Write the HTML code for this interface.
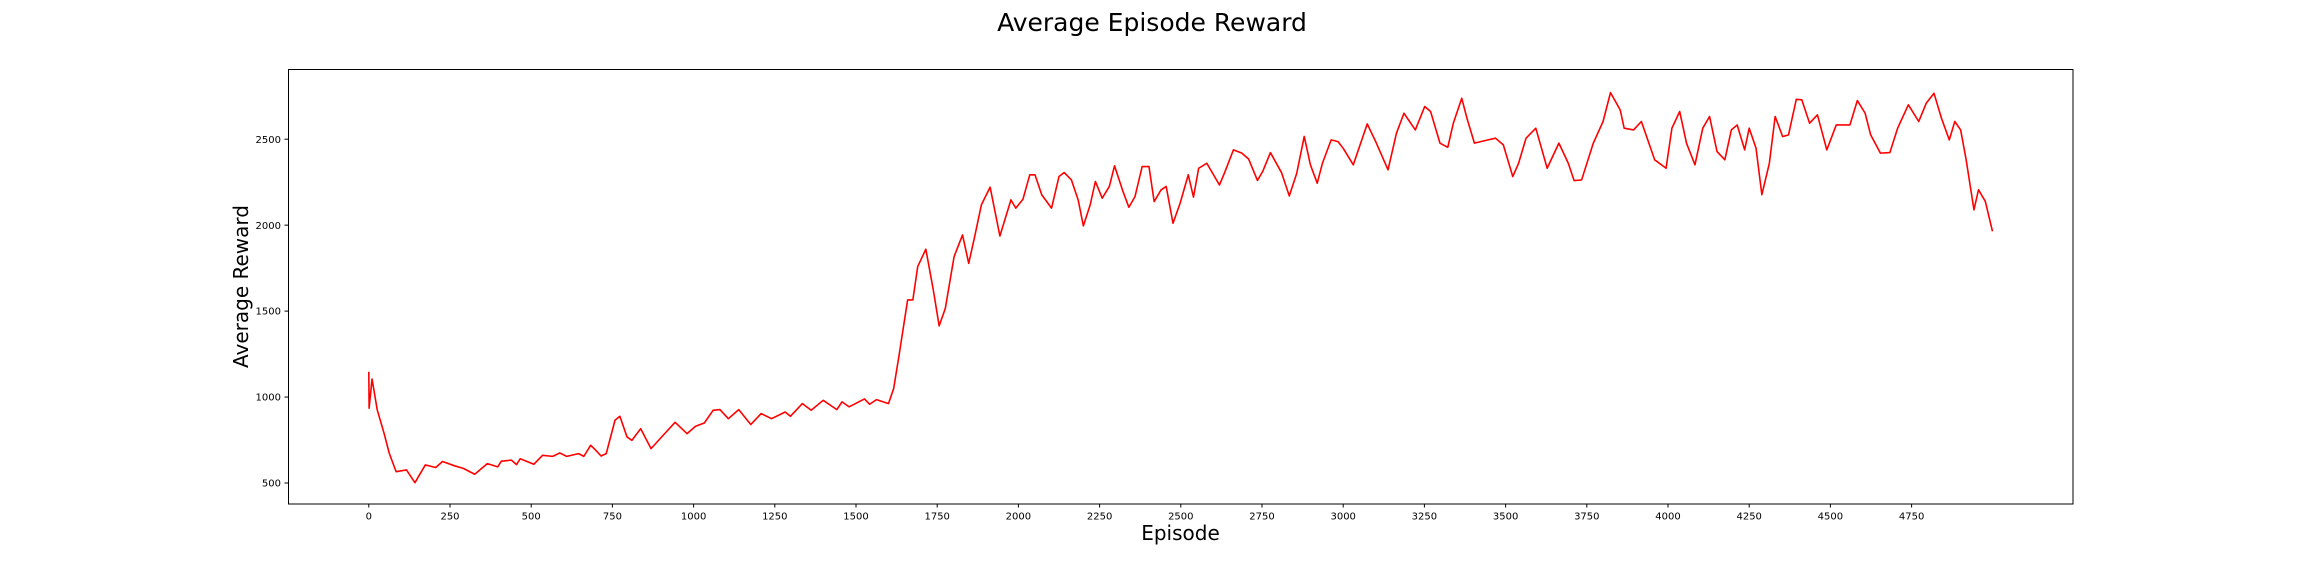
<!DOCTYPE html>
<html><head><meta charset="utf-8"><style>
html,body{margin:0;padding:0;background:#fff;}
svg{display:block;font-family:"DejaVu Sans","Liberation Sans",sans-serif;}
</style></head><body>
<svg id="chart" width="2304" height="576" viewBox="0 0 2304 576" xmlns="http://www.w3.org/2000/svg">
<rect width="2304" height="576" fill="#fff"/>
<text x="1152" y="31" font-size="25" text-anchor="middle" fill="#000">Average Episode Reward</text>
<text x="1180.5" y="540" font-size="20" text-anchor="middle" fill="#000">Episode</text>
<text x="0" y="0" font-size="20" text-anchor="middle" fill="#000" transform="translate(248,286.5) rotate(-90)">Average Reward</text>
<g id="ticks"></g>
<g id="plot"></g>
<rect x="288.5" y="69.5" width="1784.5" height="434.5" fill="none" stroke="#000" stroke-width="1"/>
</svg>
<script>
const episodes = [0,1,10,26,47,63,84,116,142,174,206,227,264,291,326,365,397,408,439,455,466,508,535,566,588,609,646,662,683,699,715,731,758,773,795,810,837,869,906,943,980,1006,1033,1060,1081,1107,1139,1176,1208,1240,1282,1298,1335,1362,1399,1441,1457,1479,1526,1542,1563,1600,1616,1632,1659,1675,1690,1715,1738,1756,1775,1802,1828,1847,1865,1886,1913,1943,1977,1992,2014,2035,2051,2072,2102,2125,2141,2163,2184,2200,2221,2237,2258,2280,2296,2322,2340,2359,2381,2402,2418,2439,2455,2476,2498,2523,2539,2555,2580,2619,2635,2662,2688,2709,2736,2752,2776,2810,2834,2857,2880,2899,2920,2936,2963,2984,3000,3031,3074,3100,3138,3164,3187,3222,3251,3269,3298,3322,3339,3365,3381,3404,3446,3469,3493,3522,3540,3563,3593,3628,3664,3693,3711,3734,3770,3800,3823,3853,3865,3894,3918,3959,3994,4012,4036,4057,4083,4107,4128,4151,4175,4195,4213,4236,4250,4271,4289,4312,4330,4353,4371,4395,4412,4436,4460,4489,4518,4560,4583,4607,4624,4654,4683,4707,4740,4772,4795,4819,4842,4866,4883,4901,4918,4942,4956,4977,4999];
const rewards = [1147,935,1105,925,789,673,566,576,502,605,590,625,600,585,551,613,594,627,633,607,641,609,661,655,675,655,671,655,719,690,657,671,865,888,768,748,816,700,777,853,787,830,849,923,927,874,927,840,904,874,913,888,962,923,981,927,972,943,989,958,985,962,1050,1236,1565,1565,1759,1860,1623,1414,1516,1817,1943,1778,1930,2118,2221,1937,2147,2099,2151,2293,2293,2176,2099,2283,2306,2264,2147,1996,2118,2254,2157,2225,2345,2196,2104,2166,2341,2341,2137,2205,2225,2011,2128,2293,2163,2331,2360,2234,2306,2438,2419,2384,2260,2312,2422,2306,2170,2302,2516,2351,2244,2360,2496,2486,2447,2351,2589,2486,2322,2535,2651,2554,2690,2661,2477,2453,2593,2738,2622,2477,2496,2506,2467,2283,2360,2506,2564,2331,2477,2360,2259,2263,2477,2603,2771,2670,2564,2554,2603,2380,2331,2564,2661,2477,2351,2564,2632,2428,2380,2554,2583,2438,2564,2448,2177,2360,2632,2515,2525,2732,2729,2593,2642,2438,2583,2583,2725,2651,2525,2419,2422,2564,2700,2603,2709,2767,2622,2496,2603,2554,2380,2089,2206,2138,1964];
const xTicks = [0,250,500,750,1000,1250,1500,1750,2000,2250,2500,2750,3000,3250,3500,3750,4000,4250,4500,4750];
const yTicks = [500,1000,1500,2000,2500];

const X0 = 368.8, XS = 0.3248;
const Y0 = 483, YS = 0.1719;
function xScale(v){ return X0 + v*XS; }
function yScale(v){ return Y0 - (v-500)*YS; }
const NS = "http://www.w3.org/2000/svg";
const ticks = document.getElementById('ticks');
const plot = document.getElementById('plot');

xTicks.forEach(t => {
  const x = xScale(t);
  const l = document.createElementNS(NS,'line');
  l.setAttribute('x1',x); l.setAttribute('x2',x); l.setAttribute('y1',504); l.setAttribute('y2',507.5);
  l.setAttribute('stroke','#000'); l.setAttribute('stroke-width','1');
  
  
  ticks.appendChild(l);
  const tx = document.createElementNS(NS,'text');
  tx.setAttribute('x',x); tx.setAttribute('y',519.5);
  tx.setAttribute('font-size','10'); tx.setAttribute('text-anchor','middle');
  tx.textContent = t;
  
  
  ticks.appendChild(tx);
});
yTicks.forEach(t => {
  const y = yScale(t);
  const l = document.createElementNS(NS,'line');
  l.setAttribute('x1',284.5); l.setAttribute('x2',288); l.setAttribute('y1',y); l.setAttribute('y2',y);
  l.setAttribute('stroke','#000'); l.setAttribute('stroke-width','1');
  
  
  ticks.appendChild(l);
  const tx = document.createElementNS(NS,'text');
  tx.setAttribute('x',281); tx.setAttribute('y',y+3.6);
  tx.setAttribute('font-size','10'); tx.setAttribute('text-anchor','end');
  tx.textContent = t;
  
  
  ticks.appendChild(tx);
});

const pts = episodes.map((e,i) => xScale(e).toFixed(2)+','+yScale(rewards[i]).toFixed(2)).join(' ');
const line = document.createElementNS(NS,'polyline');
line.setAttribute('points', pts);
line.setAttribute('fill','none'); line.setAttribute('stroke','#ff0000');
line.setAttribute('stroke-width','1.6'); line.setAttribute('stroke-linejoin','round');


plot.appendChild(line);
</script>
</body></html>
